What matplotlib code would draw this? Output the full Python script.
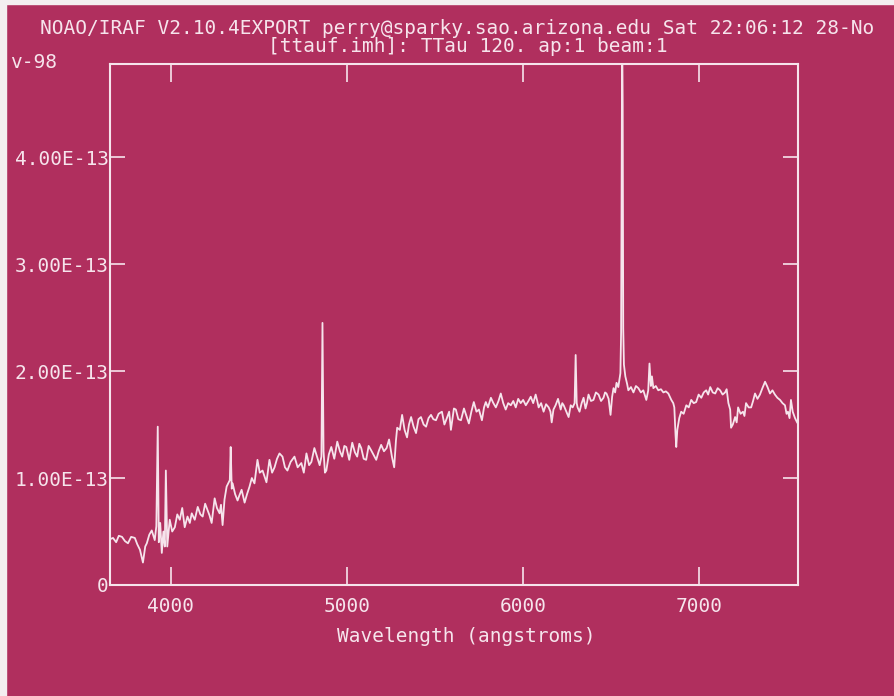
import matplotlib
matplotlib.use("Agg")
import matplotlib.pyplot as plt
import numpy as np
from matplotlib.patches import Rectangle

# spectrum, flux in units of 1e-13
wave = [3658, 3672, 3690, 3705, 3723, 3740, 3757, 3775, 3796, 3810, 3825, 3842, 3855, 3864, 3878, 3892,
        3909, 3918, 3926, 3932, 3940, 3949, 3958, 3966, 3972, 3980, 3994, 4008, 4023, 4037, 4051, 4065,
        4079, 4095, 4108, 4119, 4136, 4153, 4168, 4181, 4195, 4209, 4220, 4232, 4249, 4262, 4277, 4285,
        4294, 4305, 4317, 4335, 4340, 4346, 4351, 4365, 4379, 4390, 4402, 4419, 4433, 4447, 4460, 4475,
        4492, 4505, 4521, 4543, 4560, 4575, 4589, 4603, 4617, 4634, 4648, 4662, 4680, 4702, 4720, 4741,
        4755, 4770, 4785, 4798, 4815, 4832, 4845, 4855, 4861, 4867, 4875, 4883, 4897, 4911, 4928, 4945,
        4960, 4973, 4985, 4996, 5013, 5030, 5045, 5058, 5070, 5081, 5095, 5109, 5123, 5137, 5150, 5166,
        5180, 5194, 5210, 5225, 5239, 5255, 5268, 5278, 5285, 5300, 5313, 5327, 5341, 5352, 5364, 5378,
        5392, 5406, 5420, 5435, 5449, 5463, 5477, 5490, 5505, 5520, 5539, 5553, 5567, 5580, 5590, 5607,
        5618, 5632, 5647, 5664, 5678, 5692, 5706, 5720, 5735, 5749, 5766, 5778, 5788, 5800, 5817, 5831,
        5845, 5860, 5873, 5887, 5901, 5915, 5930, 5944, 5958, 5972, 5986, 6000, 6015, 6030, 6043, 6057,
        6071, 6080, 6088, 6102, 6116, 6130, 6145, 6155, 6162, 6172, 6184, 6198, 6213, 6222, 6230, 6245,
        6258, 6270, 6281, 6292, 6298, 6304, 6309, 6320, 6332, 6343, 6354, 6362, 6371, 6385, 6399, 6413,
        6428, 6442, 6456, 6465, 6473, 6485, 6496, 6505, 6513, 6522, 6530, 6540, 6552, 6556, 6559, 6562,
        6565, 6568, 6572, 6580, 6590, 6597, 6612, 6626, 6640, 6654, 6668, 6682, 6699, 6710, 6717, 6725,
        6731, 6739, 6753, 6767, 6782, 6796, 6810, 6824, 6841, 6852, 6858, 6865, 6869, 6875, 6886, 6897,
        6911, 6926, 6940, 6954, 6968, 6982, 6996, 7011, 7025, 7039, 7050, 7062, 7076, 7090, 7104, 7118,
        7132, 7146, 7155, 7165, 7175, 7180, 7190, 7203, 7212, 7220, 7234, 7248, 7256, 7265, 7280, 7294,
        7305, 7316, 7330, 7344, 7358, 7373, 7387, 7401, 7415, 7429, 7443, 7458, 7472, 7486, 7495, 7503,
        7512, 7520, 7530, 7543, 7555]
flux = [0.43, 0.44, 0.40, 0.46, 0.45, 0.41, 0.39, 0.45, 0.44, 0.38, 0.33, 0.21, 0.36, 0.39, 0.47, 0.51,
        0.42, 0.55, 1.48, 0.40, 0.58, 0.30, 0.50, 0.36, 1.07, 0.36, 0.61, 0.50, 0.54, 0.66, 0.61, 0.72,
        0.54, 0.64, 0.58, 0.67, 0.61, 0.73, 0.66, 0.64, 0.76, 0.70, 0.65, 0.58, 0.81, 0.72, 0.67, 0.75,
        0.56, 0.80, 0.92, 0.98, 1.29, 0.90, 0.95, 0.85, 0.79, 0.84, 0.89, 0.77, 0.85, 0.92, 1.00, 0.95,
        1.17, 1.05, 1.07, 0.96, 1.17, 1.05, 1.10, 1.18, 1.23, 1.20, 1.10, 1.07, 1.15, 1.20, 1.10, 1.14,
        1.05, 1.23, 1.12, 1.15, 1.28, 1.19, 1.12, 1.20, 2.45, 1.25, 1.05, 1.07, 1.22, 1.29, 1.18, 1.34,
        1.25, 1.20, 1.30, 1.29, 1.17, 1.33, 1.24, 1.20, 1.32, 1.28, 1.18, 1.17, 1.30, 1.26, 1.22, 1.17,
        1.25, 1.31, 1.25, 1.28, 1.36, 1.20, 1.10, 1.35, 1.47, 1.45, 1.59, 1.45, 1.38, 1.50, 1.57, 1.48,
        1.42, 1.55, 1.57, 1.50, 1.48, 1.56, 1.59, 1.55, 1.54, 1.60, 1.62, 1.50, 1.56, 1.62, 1.45, 1.65,
        1.64, 1.55, 1.54, 1.65, 1.58, 1.51, 1.62, 1.71, 1.62, 1.64, 1.54, 1.66, 1.71, 1.66, 1.75, 1.70,
        1.66, 1.72, 1.79, 1.70, 1.64, 1.70, 1.68, 1.72, 1.66, 1.74, 1.70, 1.73, 1.68, 1.72, 1.76, 1.70,
        1.78, 1.72, 1.66, 1.70, 1.62, 1.69, 1.66, 1.62, 1.52, 1.64, 1.68, 1.74, 1.64, 1.70, 1.68, 1.62,
        1.57, 1.68, 1.66, 1.70, 2.15, 1.70, 1.66, 1.62, 1.70, 1.75, 1.65, 1.70, 1.78, 1.72, 1.73, 1.80,
        1.78, 1.72, 1.75, 1.80, 1.79, 1.74, 1.59, 1.76, 1.84, 1.80, 1.89, 1.85, 1.98, 2.36, 3.83, 5.20,
        4.49, 2.40, 2.06, 1.95, 1.88, 1.82, 1.85, 1.80, 1.86, 1.84, 1.80, 1.82, 1.73, 1.82, 2.07, 1.86,
        1.95, 1.84, 1.86, 1.82, 1.83, 1.80, 1.81, 1.79, 1.73, 1.70, 1.66, 1.40, 1.29, 1.45, 1.56, 1.62,
        1.60, 1.68, 1.66, 1.73, 1.70, 1.71, 1.78, 1.75, 1.80, 1.82, 1.78, 1.85, 1.80, 1.79, 1.84, 1.82,
        1.78, 1.80, 1.83, 1.70, 1.64, 1.47, 1.50, 1.57, 1.52, 1.66, 1.60, 1.62, 1.58, 1.70, 1.66, 1.66,
        1.72, 1.79, 1.74, 1.78, 1.84, 1.90, 1.85, 1.79, 1.82, 1.78, 1.75, 1.73, 1.70, 1.68, 1.60, 1.62,
        1.56, 1.73, 1.62, 1.56, 1.52]

xticks = [4000, 5000, 6000, 7000]
yticks = [0, 1e-13, 2e-13, 3e-13, 4e-13]
ylabels = ["0", "1.00E-13", "2.00E-13", "3.00E-13", "4.00E-13"]

bg = "#b02f5e"
fg = "#f6e4ec"
plt.rcParams['font.family'] = ['DejaVu Sans Mono']

fig = plt.figure(figsize=(8.95, 6.96), dpi=100, facecolor=bg)
ax = fig.add_axes([110/895, 1-585/696, 688/895, 521/696])
ax.set_facecolor(bg)

ax.plot(np.array(wave), np.array(flux)*1e-13, color=fg, lw=1.3)

ax.set_xlim(3655, 7560)
ax.set_ylim(0, 4.87e-13)
ax.set_xticks(xticks)
ax.set_xticklabels([str(t) for t in xticks])
ax.set_yticks(yticks)
ax.set_yticklabels(ylabels)

for s in ax.spines.values():
    s.set_color(fg)
    s.set_linewidth(1.5)
ax.tick_params(axis='x', direction='in', length=13, width=1.2, color=fg, labelcolor=fg,
               labelsize=14, top=True, pad=9)
ax.tick_params(axis='y', direction='in', length=11, width=1.2, color=fg, labelcolor=fg,
               labelsize=14, right=True, pad=1)

# header lines (the first one is cut at the right edge in the original)
fig.text(40/895, 1-28/696, "NOAO/IRAF V2.10.4EXPORT perry@sparky.sao.arizona.edu Sat 22:06:12 28-No",
         color=fg, fontsize=14, va='center', ha='left')
fig.text(268/895, 1-47/696, "[ttauf.imh]: TTau 120. ap:1 beam:1",
         color=fg, fontsize=14, va='center', ha='left')
fig.text(10/895, 1-62/696, "v-98", color=fg, fontsize=14, va='center', ha='left')
fig.text(466/895, 1-637/696, "Wavelength (angstroms)", color=fg, fontsize=14, va='center', ha='center')

# light frame edges of the screenshot
fig.patches.append(Rectangle((0, 0), 6/895, 1, transform=fig.transFigure, color="#f4eef0", zorder=0))
fig.patches.append(Rectangle((0, 1-4/696), 1, 4/696, transform=fig.transFigure, color="#f4eef0", zorder=0))

fig.savefig("out.png", dpi=100, facecolor=bg)
